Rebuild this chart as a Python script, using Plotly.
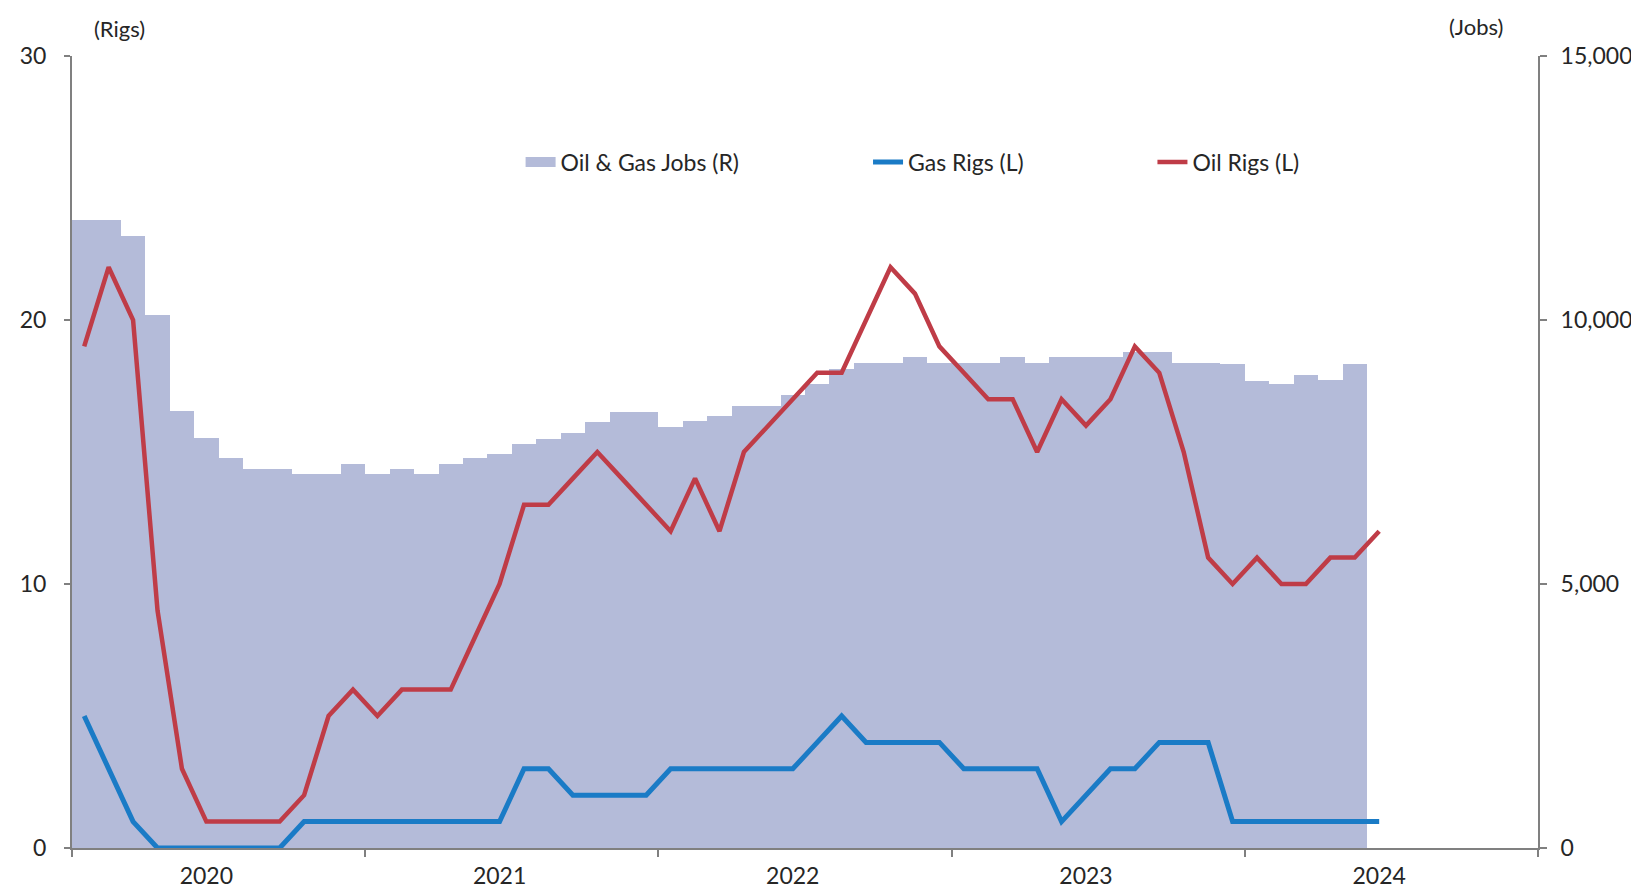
import plotly.graph_objects as go

# Monthly data, Jan 2020 onwards
months = [f"{2020 + i // 12}-{i % 12 + 1:02d}" for i in range(54)]

oil_rigs = [19, 22, 20, 9, 3, 1, 1, 1, 1, 2, 5, 6, 5, 6, 6, 6, 8, 10, 13, 13,
            14, 15, 14, 13, 12, 14, 12, 15, 16, 17, 18, 18, 20, 22, 21, 19, 18, 17, 17, 15,
            17, 16, 17, 19, 18, 15, 11, 10, 11, 10, 10, 11, 11, 12]

gas_rigs = [5, 3, 1, 0, 0, 0, 0, 0, 0, 1, 1, 1, 1, 1, 1, 1, 1, 1, 3, 3,
            2, 2, 2, 2, 3, 3, 3, 3, 3, 3, 4, 5, 4, 4, 4, 4, 3, 3, 3, 3,
            1, 2, 3, 3, 4, 4, 4, 1, 1, 1, 1, 1, 1, 1]

jobs = [11900, 11900, 11590, 10100, 8280, 7770, 7380, 7170, 7170, 7085, 7085, 7280, 7085, 7170, 7085,
        7280, 7380, 7470, 7660, 7750, 7860, 8060, 8260, 8260, 7970, 8080, 8175, 8375, 8375, 8580,
        8780, 9080, 9190, 9190, 9290, 9190, 9190, 9190, 9290, 9190, 9290, 9290, 9290, 9385, 9385,
        9190, 9190, 9170, 8845, 8780, 8965, 8860, 9170]

year_labels = ["2020", "2021", "2022", "2023", "2024"]
year_bounds = [0, 12, 24, 36, 48, 60]
rig_ticks = [0, 10, 20, 30]
job_ticks = [0, 5000, 10000, 15000]

BAR_COL = "#b4bbd9"
OIL_COL = "#bf3c47"
GAS_COL = "#1a7bc6"
AXIS_COL = "#808080"
TXT_COL = "#262626"
FONT = "Lato"

x_jobs = [i + 0.5 for i in range(len(jobs))]
x_rigs = [i + 0.5 for i in range(len(oil_rigs))]

fig = go.Figure()
fig.add_trace(go.Bar(
    x=x_jobs, y=jobs, width=1.0, name="Oil & Gas Jobs (R)",
    marker=dict(color=BAR_COL, line=dict(width=0)),
    yaxis="y", showlegend=False, customdata=months[:len(jobs)],
))
# legend entry for the jobs bars (wide swatch like the original)
fig.add_trace(go.Scatter(
    x=[None], y=[None], mode="lines", name="Oil & Gas Jobs (R)",
    line=dict(color=BAR_COL, width=14), yaxis="y", legend="legend",
))
fig.add_trace(go.Scatter(
    x=x_rigs, y=gas_rigs, mode="lines", name="Gas Rigs (L)",
    line=dict(color=GAS_COL, width=5), yaxis="y2", legend="legend2",
    customdata=months,
))
fig.add_trace(go.Scatter(
    x=x_rigs, y=oil_rigs, mode="lines", name="Oil Rigs (L)",
    line=dict(color=OIL_COL, width=4.5), yaxis="y2", legend="legend3",
    customdata=months,
))

tickfont = dict(family=FONT, size=23, color=TXT_COL)
rtickfont = dict(family=FONT, size=23, color=TXT_COL)
legfont = dict(family=FONT, size=23, color=TXT_COL)

def leg(x):
    return dict(x=x, y=0.866, xanchor="left", yanchor="middle", orientation="h",
                font=legfont, bgcolor="rgba(0,0,0,0)", borderwidth=0)

fig.update_layout(
    width=1639, height=893,
    margin=dict(l=63, r=109, t=48, b=37),
    paper_bgcolor="white", plot_bgcolor="white",
    bargap=0,
    showlegend=True,
    legend=leg(0.306),
    legend2=leg(0.543),
    legend3=leg(0.737),
    xaxis=dict(
        range=[0, 60], showgrid=False, zeroline=False,
        showline=True, linecolor=AXIS_COL, linewidth=2,
        tickmode="array", tickvals=[5.5, 17.5, 29.5, 41.5, 53.5], ticktext=year_labels,
        ticks="", tickfont=tickfont, ticklabelstandoff=6,
        minor=dict(tickmode="array", tickvals=year_bounds, ticks="outside",
                   ticklen=7, tickwidth=2, tickcolor=AXIS_COL, showgrid=False),
    ),
    yaxis=dict(
        side="right", range=[0, 15000], showgrid=False, zeroline=False,
        showline=True, linecolor=AXIS_COL, linewidth=2,
        tickmode="array", tickvals=job_ticks, tickformat=",",
        ticks="outside", ticklen=7, tickwidth=2, tickcolor=AXIS_COL,
        tickfont=rtickfont, ticklabelstandoff=9,
    ),
    yaxis2=dict(
        side="left", overlaying="y", range=[0, 30], showgrid=False, zeroline=False,
        showline=True, linecolor=AXIS_COL, linewidth=2,
        tickmode="array", tickvals=rig_ticks,
        ticks="outside", ticklen=6, tickwidth=2, tickcolor=AXIS_COL,
        tickfont=tickfont, ticklabelstandoff=13,
    ),
    annotations=[
        dict(text="(Rigs)", xref="paper", yref="paper", x=0.0135, y=1.0, yshift=28,
             xanchor="left", yanchor="middle", showarrow=False,
             font=dict(family=FONT, size=22, color=TXT_COL)),
        dict(text="(Jobs)", xref="paper", yref="paper", x=0.958, y=1.0, yshift=30,
             xanchor="center", yanchor="middle", showarrow=False,
             font=dict(family=FONT, size=22, color=TXT_COL)),
    ],
)

fig.write_html("out.html")
